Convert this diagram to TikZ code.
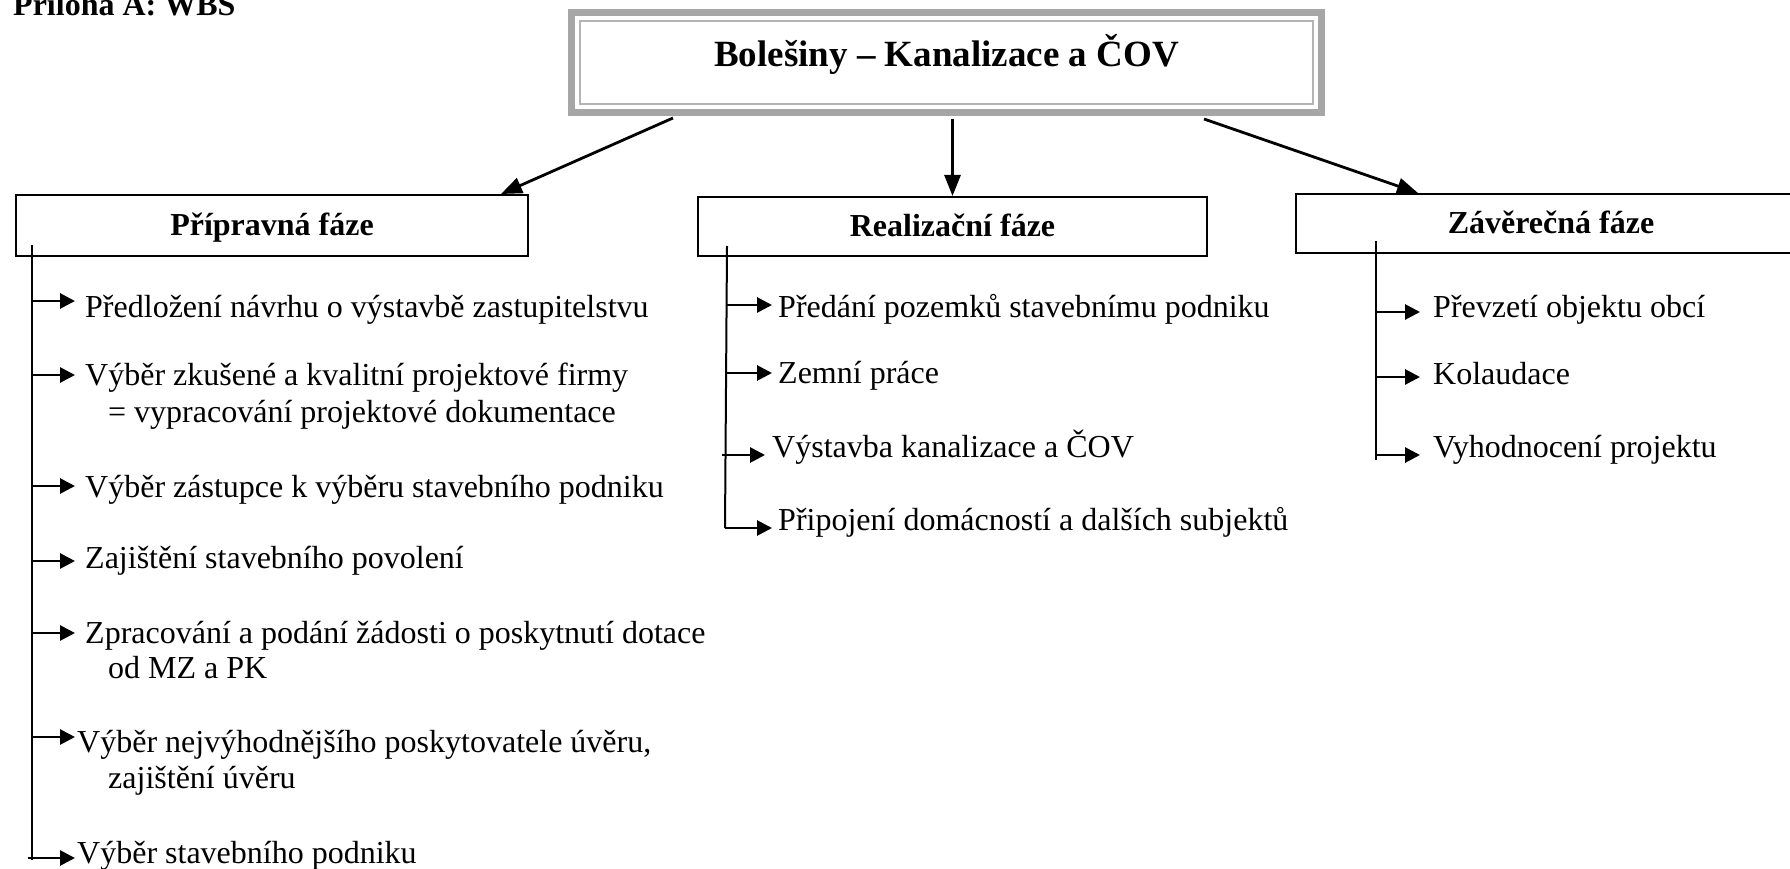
\documentclass[tikz,border=0pt]{standalone}
\usepackage{fontspec}
\setmainfont{Liberation Serif}
\usetikzlibrary{arrows.meta}
\definecolor{rootgray}{RGB}{166,166,166}
\definecolor{rootline}{RGB}{180,180,180}
\begin{document}
\begin{tikzpicture}[x=1pt,y=-1pt,
  txt/.style={font=\fontsize{32}{37}\selectfont, inner sep=0pt, anchor=base west},
  hdr/.style={draw, line width=2pt, inner sep=0pt, text height=25pt, text depth=5pt,
              font=\fontsize{32}{37}\selectfont\bfseries},
  mainarrow/.style={line width=2.8pt, -{Triangle[length=21pt 0 0,width=16pt 0 0]}},
  itemarrow/.style={line width=2.8pt, -{Triangle[length=15pt 0 0,width=15pt 0 0]}},
  tree/.style={line width=2pt}]
\useasboundingbox (0,0) rectangle (1790,869);

% caption
\node[txt, font=\fontsize{32}{37}\selectfont\bfseries] (ann) at (13,16) {Příloha A: WBS};

% root
\node[draw=rootgray, line width=7.3pt, minimum width=749.7pt, minimum height=99.7pt,
      inner sep=0pt, text height=25pt, text depth=16pt,
      font=\fontsize{37}{44}\selectfont\bfseries] (root) at (946.5,62.5) {Bolešiny – Kanalizace a ČOV};
\draw[rootline, line width=2.3pt] ([shift={(12,12)}]root.north west) rectangle ([shift={(-12,-12)}]root.south east);

% phases
\node[hdr, minimum width=512pt, minimum height=61pt] (p1) at (272,225.5) {Přípravná fáze};
\node[hdr, minimum width=509pt, minimum height=59pt] (p2) at (952.5,226.5) {Realizační fáze};
\node[hdr, minimum width=510pt, minimum height=59pt] (p3) at (1551,223.5) {Závěrečná fáze};

% main arrows
\draw[mainarrow] ([shift={(-273.5,2)}]root.south) -- ([shift={(229,0)}]p1.north);
\draw[mainarrow, shorten <=3pt] (p2.north |- root.south) -- (p2.north);
\draw[mainarrow] ([shift={(257.5,3)}]root.south) -- ([shift={(-133,0)}]p3.north);

% ---------- Přípravná fáze ----------
\coordinate (v1a) at (32,245);
\coordinate (v1b) at (32,860);
\draw[tree] (v1a) -- (v1b);

\node[txt] (i1) at (85,317) {Předložení návrhu o výstavbě zastupitelstvu};
\node[txt] (i2) at (85,385) {Výběr zkušené a kvalitní projektové firmy};
\node[txt] (i2b) at (108,422) {= vypracování projektové dokumentace};
\node[txt] (i3) at (85,497) {Výběr zástupce k výběru stavebního podniku};
\node[txt] (i4) at (85,568) {Zajištění stavebního povolení};
\node[txt] (i5) at (85,643) {Zpracování a podání žádosti o poskytnutí dotace};
\node[txt] (i5b) at (108,678) {od MZ a PK};
\node[txt] (i6) at (77,752) {Výběr nejvýhodnějšího poskytovatele úvěru,};
\node[txt] (i6b) at (108,788) {zajištění úvěru};
\node[txt] (i7) at (77,863) {Výběr stavebního podniku};

\coordinate (c1) at (32,301);
\coordinate (c2) at (32,375);
\coordinate (c3) at (32,486);
\coordinate (c4) at (32,561);
\coordinate (c5) at (32,633);
\coordinate (c6) at (32,737);
\coordinate (c7) at (28,858);
\draw[itemarrow, shorten >=10pt] (c1) -- (c1 -| i1.west);
\draw[itemarrow, shorten >=10pt] (c2) -- (c2 -| i2.west);
\draw[itemarrow, shorten >=10pt] (c3) -- (c3 -| i3.west);
\draw[itemarrow, shorten >=10pt] (c4) -- (c4 -| i4.west);
\draw[itemarrow, shorten >=10pt] (c5) -- (c5 -| i5.west);
\draw[itemarrow, shorten >=2pt] (c6) -- (c6 -| i6.west);
\draw[itemarrow, shorten >=2pt] (c7) -- (c7 -| i7.west);

% ---------- Realizační fáze ----------
\coordinate (v2a) at (727,246);
\coordinate (v2b) at (725,528);
\draw[tree] (v2a) -- (v2b);

\node[txt] (j1) at (778,317) {Předání pozemků stavebnímu podniku};
\node[txt] (j2) at (778,383) {Zemní práce};
\node[txt] (j3) at (772,457) {Výstavba kanalizace a ČOV};
\node[txt] (j4) at (778,530) {Připojení domácností a dalších subjektů};

\coordinate (d1) at (727,305);
\coordinate (d2) at (727,373);
\coordinate (d3) at (722,455);
\coordinate (d4) at (725,528);
\draw[itemarrow, shorten >=6pt] (d1) -- (d1 -| j1.west);
\draw[itemarrow, shorten >=6pt] (d2) -- (d2 -| j2.west);
\draw[itemarrow, shorten >=7pt] (d3) -- (d3 -| j3.west);
\draw[itemarrow, shorten >=6pt] (d4) -- (d4 -| j4.west);

% ---------- Závěrečná fáze ----------
\coordinate (v3a) at (1376,241);
\coordinate (v3b) at (1376,460);
\draw[tree] (v3a) -- (v3b);

\node[txt] (k1) at (1433,317) {Převzetí objektu obcí};
\node[txt] (k2) at (1433,384) {Kolaudace};
\node[txt] (k3) at (1433,457) {Vyhodnocení projektu};

\coordinate (e1) at (1376,312);
\coordinate (e2) at (1376,377);
\coordinate (e3) at (1376,455);
\draw[itemarrow, shorten >=13pt] (e1) -- (e1 -| k1.west);
\draw[itemarrow, shorten >=13pt] (e2) -- (e2 -| k2.west);
\draw[itemarrow, shorten >=13pt] (e3) -- (e3 -| k3.west);
\end{tikzpicture}
\end{document}
